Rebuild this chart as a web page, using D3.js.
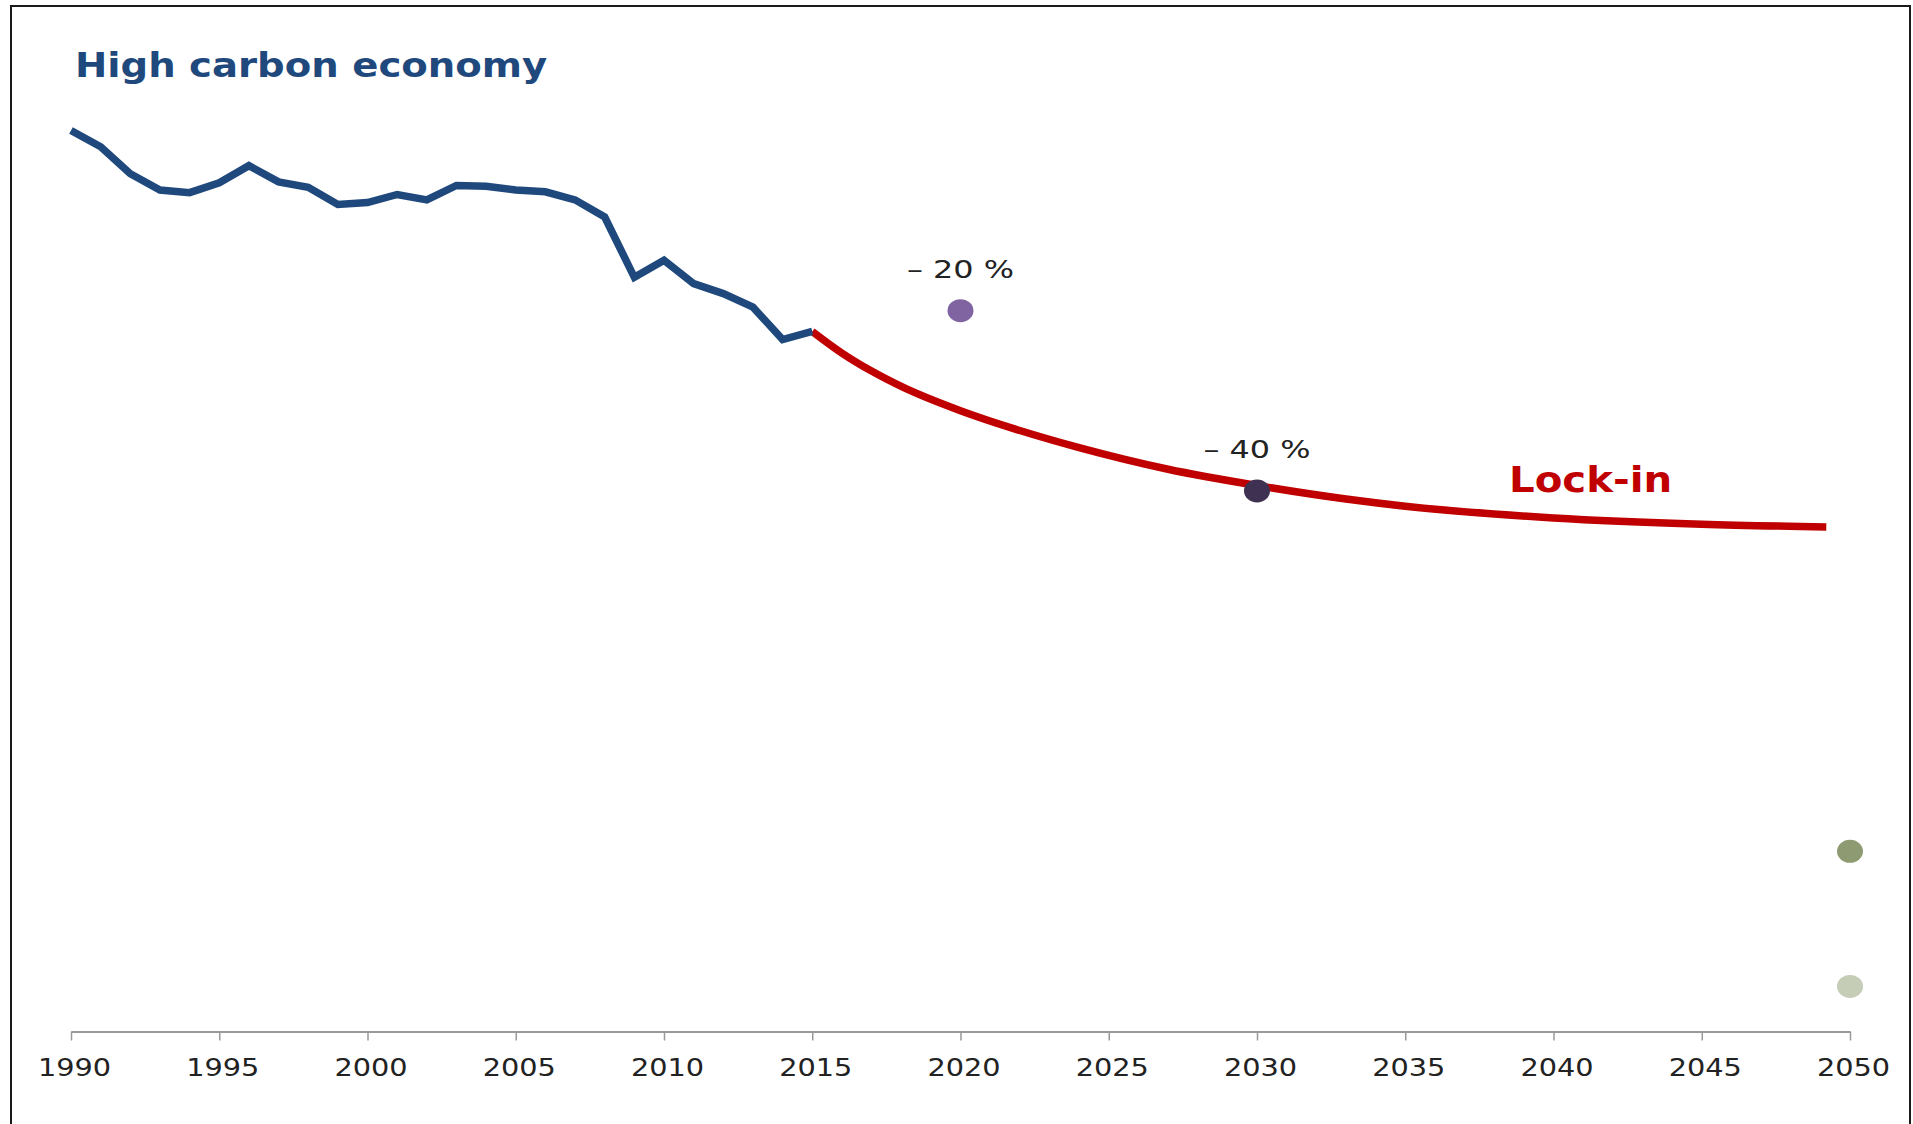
<!DOCTYPE html>
<html>
<head>
<meta charset="utf-8">
<script src="https://cdn.jsdelivr.net/npm/d3@7"></script>
<style>
  html, body { margin: 0; padding: 0; background: #ffffff; }
  svg { display: block; }
  text { font-family: "DejaVu Sans", Verdana, sans-serif; }
</style>
</head>
<body>
<script>
// ---------- data ----------
const histYears  = [1990,1991,1992,1993,1994,1995,1996,1997,1998,1999,2000,2001,2002,2003,2004,2005,2006,2007,2008,2009,2010,2011,2012,2013,2014,2015];
const histValues = [100.0,98.2,95.2,93.4,93.1,94.2,96.1,94.3,93.7,91.8,92.0,92.9,92.3,93.9,93.8,93.4,93.2,92.3,90.4,83.7,85.6,83.0,81.9,80.4,76.8,77.7];

const lockYears  = [2015,2016,2017,2018,2020,2022,2024,2027,2030,2033,2035,2040,2045,2049.2];
const lockValues = [77.7,75.3,73.3,71.6,68.9,66.7,64.8,62.4,60.6,59.1,58.3,57.0,56.3,56.0];

const targetYears  = [2020, 2030, 2050, 2050];
const targetValues = [80, 60, 20, 5];
const targetLabels = ["– 20 %", "– 40 %", "", ""];
const targetColors = ["#8064a2", "#3f3151", "#8d9a72", "#c5cdb6"];

const tickYears = [1990,1995,2000,2005,2010,2015,2020,2025,2030,2035,2040,2045,2050];

const titleText = "High carbon economy";
const lockLabel = { text: "Lock-in", year: 2038.5, value: 59.9 };

// ---------- layout ----------
const W = 1913, H = 1124;
const STRETCH = 1.15;   // horizontal text stretch of the original

const svg = d3.select("body").append("svg")
  .attr("width", W).attr("height", H);

svg.append("rect").attr("x", 0).attr("y", 0).attr("width", W).attr("height", H).attr("fill", "#fff");
// frame
svg.append("rect")
  .attr("x", 11).attr("y", 6).attr("width", 1899).attr("height", 1130)
  .attr("fill", "none").attr("stroke", "#1a1a1a").attr("stroke-width", 2);

const x = d3.scaleLinear().domain([1990, 2050]).range([71, 1850]);
const y = d3.scaleLinear().domain([0, 100]).range([1031.5, 130.5]);

function stretch(sel, k, fixed) {
  sel.each(function() {
    const len = fixed || this.getComputedTextLength() * k;
    d3.select(this).attr("textLength", len).attr("lengthAdjust", "spacingAndGlyphs");
  });
}

// axis
const axis = d3.axisBottom(x)
  .tickValues(tickYears)
  .tickFormat(d3.format("d"))
  .tickSize(9)
  .tickSizeOuter(0)
  .tickPadding(18);

const gx = svg.append("g").attr("transform", `translate(0,${y(0)})`).call(axis);
gx.select(".domain").attr("stroke", "#999").attr("stroke-width", 2);
gx.selectAll(".tick line").attr("stroke", "#999").attr("stroke-width", 1.5);
gx.selectAll(".tick text")
  .attr("fill", "#222")
  .style("font-family", "'DejaVu Sans', Verdana, sans-serif")
  .style("font-size", "25px")
  .attr("dx", 3);
stretch(gx.selectAll(".tick text"), STRETCH);

const hist = histYears.map((d, i) => ({ year: d, value: histValues[i] }));
const lock = lockYears.map((d, i) => ({ year: d, value: lockValues[i] }));

// lock-in curve
svg.append("path")
  .datum(lock)
  .attr("d", d3.line().x(d => x(d.year)).y(d => y(d.value)).curve(d3.curveMonotoneX))
  .attr("fill", "none")
  .attr("stroke", "#c00000")
  .attr("stroke-width", 7.5);

// historical line
svg.append("path")
  .datum(hist)
  .attr("d", d3.line().x(d => x(d.year)).y(d => y(d.value)).curve(d3.curveLinear))
  .attr("fill", "none")
  .attr("stroke", "#1f497d")
  .attr("stroke-width", 7.5)
  .attr("stroke-linejoin", "miter");

// target dots
const targets = targetYears.map((d, i) => ({ year: d, value: targetValues[i], label: targetLabels[i], color: targetColors[i] }));

svg.selectAll("ellipse.target")
  .data(targets)
  .enter().append("ellipse")
  .attr("class", "target")
  .attr("cx", d => x(d.year))
  .attr("cy", d => y(d.value))
  .attr("rx", 13)
  .attr("ry", 11.5)
  .attr("fill", d => d.color);

const tl = svg.selectAll("text.tlabel")
  .data(targets.filter(d => d.label))
  .enter().append("text")
  .attr("class", "tlabel")
  .attr("x", d => x(d.year))
  .attr("y", d => y(d.value) - 33)
  .attr("text-anchor", "middle")
  .attr("fill", "#222")
  .style("font-size", "25px")
  .text(d => d.label);
stretch(tl, STRETCH, 107);

// Lock-in label
const ll = svg.append("text")
  .attr("x", x(lockLabel.year))
  .attr("y", y(lockLabel.value))
  .attr("fill", "#c00000")
  .style("font-size", "35px")
  .style("font-weight", "bold")
  .text(lockLabel.text);
stretch(ll, STRETCH);

// title
const tt = svg.append("text")
  .attr("x", 75)
  .attr("y", 77)
  .attr("fill", "#1f497d")
  .style("font-size", "33px")
  .style("font-weight", "bold")
  .text(titleText);
stretch(tt, 1.17);
</script>
</body>
</html>
